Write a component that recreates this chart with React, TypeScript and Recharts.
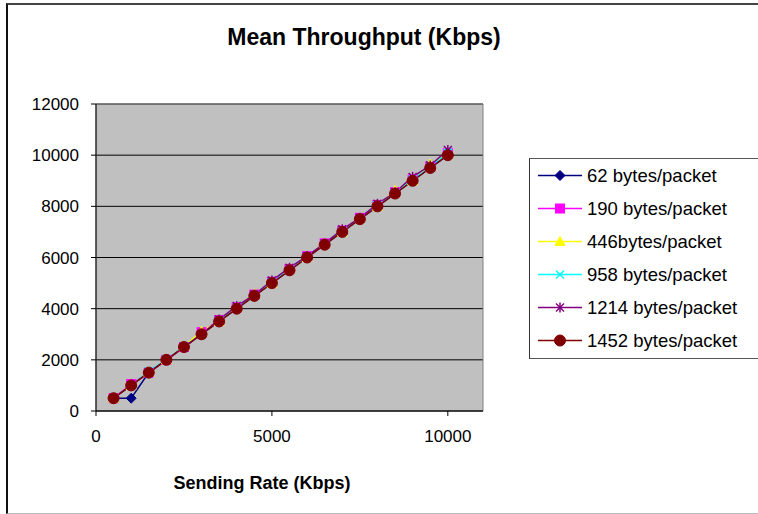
import React from "react";
import {
  LineChart,
  Line,
  XAxis,
  YAxis,
  CartesianGrid,
  ReferenceArea,
} from "recharts";

const sendingRates = [500, 1000, 1500, 2000, 2500, 3000, 3500, 4000, 4500, 5000, 5500, 6000, 6500, 7000, 7500, 8000, 8500, 9000, 9500, 10000];
const s62 = [500, 500, 1500, 2000, 2500, 3000, 3500, 4000, 4500, 5000, 5500, 6000, 6500, 7000, 7500, 8000, 8500, 9000, 9500, 10000];
const s190 = [500, 1050, 1500, 2000, 2500, 3080, 3550, 4050, 4550, 5050, 5550, 6050, 6550, 7050, 7550, 8050, 8550, 9050, 9550, 10080];
const s446 = [500, 1000, 1520, 2000, 2520, 3120, 3500, 4050, 4580, 5000, 5550, 6000, 6550, 7000, 7550, 8000, 8620, 9000, 9650, 10050];
const s958 = [500, 1000, 1550, 2020, 2520, 3000, 3550, 4050, 4520, 5050, 5520, 6050, 6520, 7050, 7520, 8050, 8520, 9050, 9520, 10100];
const s1214 = [500, 1000, 1500, 2000, 2500, 3000, 3580, 4100, 4550, 5100, 5600, 6050, 6550, 7100, 7550, 8100, 8550, 9150, 9600, 10200];
const s1452 = [500, 1000, 1500, 2000, 2500, 3000, 3500, 4000, 4500, 5000, 5500, 6000, 6500, 7000, 7500, 8000, 8500, 9000, 9500, 10000];

const xTicks = [0, 5000, 10000];
const yTicks = [0, 2000, 4000, 6000, 8000, 10000, 12000];

type Shape = "diamond" | "square" | "triangle" | "x" | "star" | "circle";

const series: { key: string; name: string; color: string; shape: Shape; values: number[] }[] = [
  { key: "s62", name: "62 bytes/packet", color: "#000080", shape: "diamond", values: s62 },
  { key: "s190", name: "190 bytes/packet", color: "#FF00FF", shape: "square", values: s190 },
  { key: "s446", name: "446bytes/packet", color: "#FFFF00", shape: "triangle", values: s446 },
  { key: "s958", name: "958 bytes/packet", color: "#00FFFF", shape: "x", values: s958 },
  { key: "s1214", name: "1214 bytes/packet", color: "#800080", shape: "star", values: s1214 },
  { key: "s1452", name: "1452 bytes/packet", color: "#800000", shape: "circle", values: s1452 },
];

const data = sendingRates.map((x, i) => {
  const row: Record<string, number> = { x };
  series.forEach((s) => {
    row[s.key] = s.values[i];
  });
  return row;
});

function Marker({ cx, cy, shape, color }: { cx: number; cy: number; shape: Shape; color: string }) {
  switch (shape) {
    case "diamond":
      return <polygon points={`${cx},${cy - 5} ${cx + 5},${cy} ${cx},${cy + 5} ${cx - 5},${cy}`} fill={color} stroke={color} />;
    case "square":
      return <rect x={cx - 4.5} y={cy - 4.5} width={9} height={9} fill={color} stroke={color} />;
    case "triangle":
      return <polygon points={`${cx},${cy - 5} ${cx + 5},${cy + 4} ${cx - 5},${cy + 4}`} fill={color} stroke={color} />;
    case "x":
      return (
        <g stroke={color} strokeWidth={1.5}>
          <line x1={cx - 4} y1={cy - 4} x2={cx + 4} y2={cy + 4} />
          <line x1={cx - 4} y1={cy + 4} x2={cx + 4} y2={cy - 4} />
        </g>
      );
    case "star":
      return (
        <g stroke={color} strokeWidth={1.5}>
          <line x1={cx - 4} y1={cy - 4} x2={cx + 4} y2={cy + 4} />
          <line x1={cx - 4} y1={cy + 4} x2={cx + 4} y2={cy - 4} />
          <line x1={cx} y1={cy - 5} x2={cx} y2={cy + 5} />
        </g>
      );
    case "circle":
    default:
      return <circle cx={cx} cy={cy} r={5.5} fill={color} stroke={color} />;
  }
}

const makeDot = (shape: Shape, color: string) => (props: any) => {
  const { cx, cy, index } = props;
  if (cx == null || cy == null) return <g key={`d-${index}`} />;
  return (
    <g key={`d-${shape}-${index}`}>
      <Marker cx={cx} cy={cy} shape={shape} color={color} />
    </g>
  );
};

const FONT = "'Liberation Sans', Arial, sans-serif";

export default function App() {
  return (
    <div style={{ position: "absolute", left: 0, top: 0, width: 758, height: 514, background: "#fff", overflow: "hidden", fontFamily: FONT }}>
      <div
        style={{
          position: "absolute",
          left: 6,
          top: 3,
          width: 800,
          height: 508,
          borderLeft: "2px solid #111",
          borderTop: "2px solid #444",
          borderBottom: "1px solid #bbb",
        }}
      />
      <div
        style={{
          position: "absolute",
          left: 0,
          width: 728,
          top: 22,
          textAlign: "center",
          fontWeight: "bold",
          fontSize: 23,
          lineHeight: "30px",
          color: "#000",
        }}
      >
        Mean Throughput (Kbps)
      </div>
      <div
        style={{
          position: "absolute",
          left: 162,
          width: 200,
          top: 471,
          textAlign: "center",
          fontWeight: "bold",
          fontSize: 18,
          lineHeight: "24px",
          color: "#000",
        }}
      >
        Sending Rate (Kbps)
      </div>
      <div style={{ position: "absolute", left: 0, top: 0 }}>
        <LineChart width={758} height={514} data={data} margin={{ top: 104, right: 275, bottom: 73, left: 0 }}>
          <CartesianGrid vertical={false} horizontal={true} stroke="#000" strokeWidth={1} fill="#C0C0C0" fillOpacity={1} />
          <ReferenceArea x1={0} x2={11000} y1={0} y2={12000} fill="none" stroke="#808080" strokeWidth={1} ifOverflow="visible" />
          <XAxis
            type="number"
            dataKey="x"
            domain={[0, 11000]}
            ticks={xTicks}
            tickSize={5}
            tickMargin={14}
            height={30}
            stroke="#000"
            tick={{ fill: "#000", fontSize: 17, fontFamily: FONT }}
            tickLine={{ stroke: "#000" }}
            axisLine={{ stroke: "#000" }}
          />
          <YAxis
            type="number"
            domain={[0, 12000]}
            ticks={yTicks}
            width={96}
            tickSize={5}
            tickMargin={12}
            stroke="#000"
            tick={{ fill: "#000", fontSize: 17, fontFamily: FONT }}
            tickLine={{ stroke: "#000" }}
            axisLine={{ stroke: "#000" }}
          />
          {series.map((s) => (
            <Line
              key={s.key}
              type="linear"
              dataKey={s.key}
              name={s.name}
              stroke={s.color}
              strokeWidth={1.5}
              dot={makeDot(s.shape, s.color)}
              activeDot={false}
              isAnimationActive={false}
            />
          ))}
        </LineChart>
      </div>
      <div
        style={{
          position: "absolute",
          left: 529,
          top: 158,
          width: 260,
          height: 199,
          borderLeft: "1px solid #333",
          borderTop: "1px solid #555",
          borderBottom: "1px solid #555",
          background: "#fff",
        }}
      >
        {series.map((s, i) => (
          <div key={s.key} style={{ position: "absolute", left: 0, top: i * 33, height: 33, width: 260 }}>
            <svg width={56} height={33} style={{ position: "absolute", left: 0, top: 0 }}>
              <line x1={8} y1={16.5} x2={52} y2={16.5} stroke={s.color} strokeWidth={1.5} />
              <Marker cx={30} cy={16.5} shape={s.shape} color={s.color} />
            </svg>
            <span
              style={{
                position: "absolute",
                left: 57,
                top: 0,
                lineHeight: "33px",
                fontSize: 18.5,
                color: "#000",
                whiteSpace: "nowrap",
              }}
            >
              {s.name}
            </span>
          </div>
        ))}
      </div>
    </div>
  );
}
